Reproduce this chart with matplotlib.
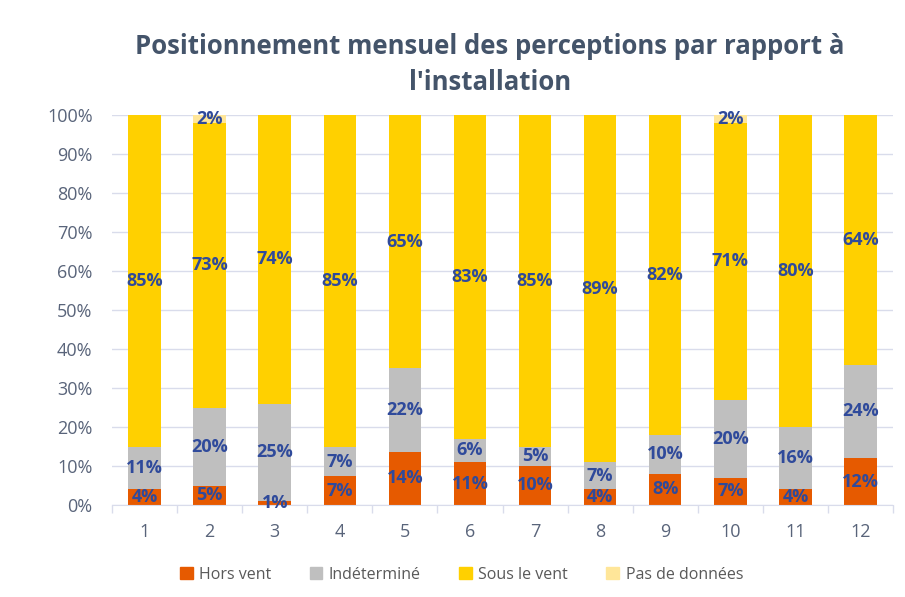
import numpy as np
import matplotlib
matplotlib.use("Agg")
import matplotlib.pyplot as plt
from matplotlib.patches import Patch

# Monthly shares (%) by position relative to the installation
months = ['1', '2', '3', '4', '5', '6', '7', '8', '9', '10', '11', '12']
hors_vent = [4, 5, 1, 7.4, 13.6, 11, 10, 4, 8, 7, 4, 12]
indetermine = [11, 20, 25, 7.4, 21.5, 6, 5, 7, 10, 20, 16, 24]
sous_le_vent = [85, 73, 74, 85.2, 64.9, 83, 85, 89, 82, 71, 80, 64]
pas_de_donnees = [0, 2, 0, 0, 0, 0, 0, 0, 0, 2, 0, 0]

series = [
    ('Hors vent', hors_vent, '#E65A00'),
    ('Indéterminé', indetermine, '#BFBFBF'),
    ('Sous le vent', sous_le_vent, '#FFD000'),
    ('Pas de données', pas_de_donnees, '#FFE699'),
]

plt.rcParams['font.family'] = ['Open Sans', 'DejaVu Sans']

fig = plt.figure(figsize=(9.05, 5.97), dpi=100)
ax = fig.add_axes([112 / 905, 92 / 597, 781 / 905, 390 / 597])

x = np.arange(len(months))
bottom = np.zeros(len(months))
for name, vals, color in series:
    vals = np.array(vals, dtype=float)
    ax.bar(x, vals, 0.5, bottom=bottom, color=color, label=name, zorder=2)
    for xi, b, v in zip(x, bottom, vals):
        if v > 0:
            ax.text(xi, b + v / 2, f'{v:.0f}%', ha='center', va='center',
                    fontsize=13, fontweight='bold', color='#2F4A9B', zorder=3)
    bottom += vals

ax.set_xlim(-0.5, len(months) - 0.5)
ax.set_ylim(0, 100)
ax.set_yticks(np.arange(0, 101, 10))
ax.set_yticklabels([f'{v}%' for v in range(0, 101, 10)])
ax.set_xticks(x)
ax.set_xticklabels(months)
ax.set_xticks(np.arange(-0.5, len(months), 1), minor=True)
ax.tick_params(axis='x', which='major', length=0, pad=13)
ax.tick_params(axis='x', which='minor', length=6, color='#D9DCEB', width=1)
ax.tick_params(axis='y', length=0, pad=14)
ax.tick_params(labelsize=13, labelcolor='#59647A')

ax.grid(axis='y', color='#D9DCEB', linewidth=1, zorder=0)
for side in ['top', 'right', 'left']:
    ax.spines[side].set_visible(False)
ax.spines['bottom'].set_color('#D9DCEB')

fig.text(0.541, 0.892, "Positionnement mensuel des perceptions par rapport à\nl'installation",
         ha='center', va='center', fontsize=18.5, fontweight='bold', color='#44546A',
         linespacing=1.4)

handles = [Patch(color=c, label=n) for n, _, c in series]
fig.legend(handles=handles, loc='center', bbox_to_anchor=(0.51, 0.037), ncol=4,
           frameon=False, fontsize=11.5, labelcolor='#595959', handlelength=0.8,
           handleheight=0.8, handletextpad=0.4, columnspacing=2.4)

fig.savefig('out.png', dpi=100)
